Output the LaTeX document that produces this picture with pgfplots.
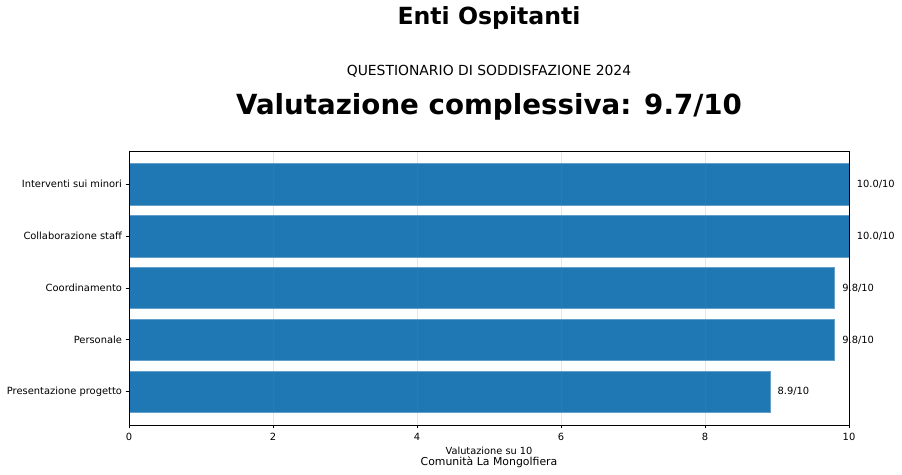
\documentclass[border=0pt]{standalone}
\usepackage{pgfplots}
\pgfplotsset{compat=1.18}
\usepackage{fontspec}
\setmainfont{DejaVu Sans}
\definecolor{barblue}{HTML}{1F77B4}
\begin{document}
\begin{tikzpicture}[x=1bp,y=1bp]
\path[use as bounding box] (0,0) rectangle (902,475);
\begin{axis}[
  at={(129bp,50bp)}, anchor=south west,
  scale only axis, width=720bp, height=274bp,
  xbar, bar width=0.8,
  xmin=0, xmax=10, ymin=-0.64, ymax=4.64,
  xtick={0,2,4,6,8,10},
  ytick={0,1,2,3,4},
  yticklabels={Presentazione progetto,Personale,Coordinamento,Collaborazione staff,Interventi sui minori},
  tick align=outside, major tick length=3.5bp,
  xtick pos=bottom, ytick pos=left,
  tick style={black, line width=0.8bp},
  axis line style={black, line width=0.8bp},
  xmajorgrids, grid style={gray, opacity=0.2, line width=0.8bp},
  axis on top,
  /pgf/number format/assume math mode=true,
  ticklabel style={font=\fontsize{9.9bp}{12bp}\selectfont, text=black},
  xticklabel style={yshift=-1bp},
  nodes near coords,
  point meta=explicit symbolic,
  every node near coord/.append style={anchor=west, inner sep=0pt, xshift=7.5bp, font=\fontsize{9.9bp}{12bp}\selectfont, text=black},
]
\addplot[fill=barblue, draw=barblue!70!white, line width=0.5bp] table[x=v, y=y, meta=lab] {
y v lab
0 8.9 8.9/10
1 9.8 9.8/10
2 9.8 9.8/10
3 10.0 10.0/10
4 10.0 10.0/10
};
\end{axis}
\node[font=\fontsize{23.6bp}{28bp}\selectfont\bfseries] at (489,457) {Enti Ospitanti};
\node[font=\fontsize{13.9bp}{16bp}\selectfont] at (489,404) {QUESTIONARIO DI SODDISFAZIONE 2024};
\node[font=\fontsize{27.7bp}{32bp}\selectfont\bfseries] at (489,368) {Valutazione complessiva: 9.7/10};
\node[font=\fontsize{9.8bp}{12bp}\selectfont, text=black] at (489,24) {Valutazione su 10};
\node[font=\fontsize{10.9bp}{13bp}\selectfont, text=black] at (489,12.5) {Comunità La Mongolfiera};
\end{tikzpicture}
\end{document}
